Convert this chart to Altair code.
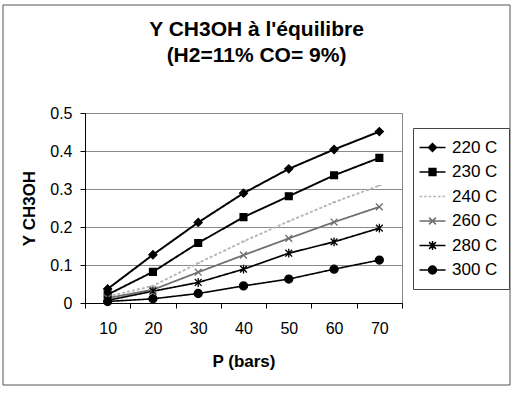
import altair as alt
import pandas as pd

P = [10, 20, 30, 40, 50, 60, 70]
series = ["220 C", "230 C", "240 C", "260 C", "280 C", "300 C"]
y220 = [0.037, 0.127, 0.212, 0.289, 0.353, 0.404, 0.451]
y230 = [0.022, 0.082, 0.158, 0.226, 0.281, 0.336, 0.382]
y240 = [0.017, 0.045, 0.105, 0.162, 0.215, 0.265, 0.309]
y260 = [0.013, 0.035, 0.081, 0.126, 0.170, 0.213, 0.253]
y280 = [0.007, 0.031, 0.054, 0.089, 0.131, 0.161, 0.197]
y300 = [0.004, 0.011, 0.025, 0.045, 0.063, 0.089, 0.113]
y_ticks = [0, 0.1, 0.2, 0.3, 0.4, 0.5]

rows = []
for name, vals in zip(series, [y220, y230, y240, y260, y280, y300]):
    for p, v in zip(P, vals):
        rows.append({"P": p, "T": name, "Y": v})
df = pd.DataFrame(rows)

colors = ["#000000", "#000000", "#b4b4b4", "#6e6e6e", "#000000", "#000000"]
dashes = [[1, 0], [1, 0], [3, 2], [1, 0], [1, 0], [1, 0]]
widths = [2.0, 1.6, 1.0, 1.0, 1.6, 2.0]
marker_paths = [
    "M0,-1L1,0L0,1L-1,0Z",
    "M-0.85,-0.85H0.85V0.85H-0.85Z",
    "M-0.5,0H0.5",
    "M-0.85,-0.85L0.85,0.85M-0.85,0.85L0.85,-0.85",
    "M-0.85,-0.85L0.85,0.85M-0.85,0.85L0.85,-0.85M0,-1.1V1.1",
    "M-1,0A1,1,0,1,0,1,0A1,1,0,1,0,-1,0Z",
]
line_seg = "M-3.25,0H3.25"
dotted_seg = "M-3.25,0H-2.6M-2.1,0H-1.45M-0.95,0H-0.3M0.2,0H0.85M1.35,0H2M2.5,0H3.15"
legend_paths = [line_seg + marker_paths[0], line_seg + marker_paths[1], dotted_seg,
                line_seg + marker_paths[3], line_seg + marker_paths[4], line_seg + marker_paths[5]]

FONT = "Liberation Sans"

x_enc = alt.X(
    "P:O",
    bandPosition=0.5,
    scale=alt.Scale(type="band", paddingInner=0, paddingOuter=0),
    axis=alt.Axis(title="P (bars)", labelAngle=0, tickBand="extent", grid=False,
                  tickSize=5, labelPadding=12, titlePadding=17,
                  labelFontSize=16, titleFontSize=17, titleFontWeight="bold"),
)
y_enc = alt.Y(
    "Y:Q",
    scale=alt.Scale(domain=[0, 0.5], nice=False),
    axis=alt.Axis(title="Y CH3OH", values=y_ticks, format="~g", grid=True,
                  gridColor="#8a8a8a", gridWidth=1, tickSize=5, labelPadding=8,
                  titlePadding=11, labelFontSize=16, titleFontSize=17,
                  titleFontWeight="bold"),
)

base = alt.Chart(df)

lines = base.mark_line().encode(
    x=x_enc, y=y_enc,
    detail="T:N",
    stroke=alt.Stroke("T:N", scale=alt.Scale(domain=series, range=colors), legend=None),
    strokeDash=alt.StrokeDash("T:N", scale=alt.Scale(domain=series, range=dashes), legend=None),
    strokeWidth=alt.StrokeWidth("T:N", scale=alt.Scale(domain=series, range=widths), legend=None),
)

points = base.mark_point(filled=True, size=64, strokeWidth=1.3, opacity=1).encode(
    x=x_enc, y=y_enc,
    shape=alt.Shape("T:N", scale=alt.Scale(domain=series, range=marker_paths), legend=None),
    fill=alt.Fill("T:N", scale=alt.Scale(domain=series, range=colors), legend=None),
    stroke=alt.Stroke("T:N", scale=alt.Scale(domain=series, range=colors), legend=None),
)

leg = alt.Legend(
    title=None, orient="none", legendX=328, legendY=15,
    labelFont=FONT, labelFontSize=17, labelColor="black",
    symbolSize=64, symbolStrokeWidth=1.5, symbolOpacity=1, labelOffset=11,
    padding=11, rowPadding=6.5, strokeColor="#444", fillColor="white",
)

legend_layer = base.transform_filter("datum.Y < 0").mark_point(
    filled=True, size=64, strokeWidth=1.5, opacity=1
).encode(
    x=x_enc, y=y_enc,
    shape=alt.Shape("T:N", scale=alt.Scale(domain=series, range=legend_paths), legend=leg),
    fill=alt.Fill("T:N", scale=alt.Scale(domain=series, range=colors), legend=leg),
    stroke=alt.Stroke("T:N", scale=alt.Scale(domain=series, range=colors), legend=leg),
)

frame = alt.Chart(pd.DataFrame({"a": [0]})).mark_rect(
    filled=False, stroke="#555", strokeWidth=1
).encode(x=alt.value(-82), x2=alt.value(425), y=alt.value(-108), y2=alt.value(272))

chart = alt.layer(frame, lines, points, legend_layer).resolve_scale(
    shape="independent", fill="independent", stroke="independent"
).properties(
    width=317, height=190,
    autosize=alt.AutoSizeParams(type="none"),
    padding={"left": 85, "top": 113, "right": 111, "bottom": 97},
    title=alt.Title(["Y CH3OH à l'équilibre", "(H2=11% CO= 9%)"], font=FONT,
                    fontSize=21, fontWeight="bold", color="black", dx=13,
                    lineHeight=26, offset=-61, anchor="middle", frame="group"),
).configure_axis(
    labelFont=FONT, titleFont=FONT, labelColor="black", titleColor="black",
    domainColor="black", tickColor="black",
).configure_view(stroke="#888")

chart.save("out.html", embed_options={"renderer": "svg", "actions": False})
